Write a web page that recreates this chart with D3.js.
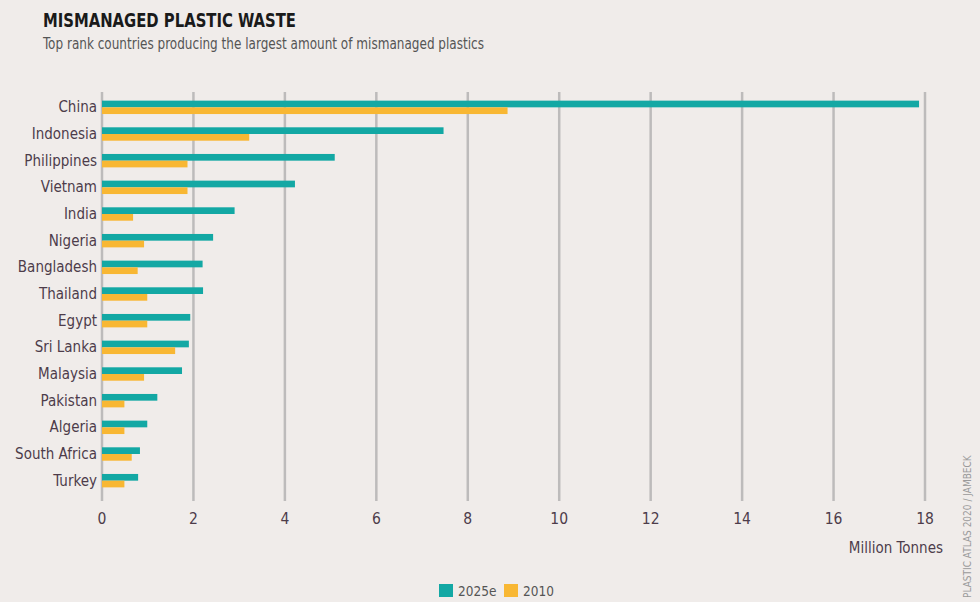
<!DOCTYPE html>
<html><head><meta charset="utf-8">
<script src="https://cdn.jsdelivr.net/npm/d3@7/dist/d3.min.js"></script>
<style>
html,body{margin:0;padding:0;background:#f0ecea;}
svg{display:block;font-family:"Liberation Sans Narrow","DejaVu Sans Condensed","Roboto",sans-serif;}
</style></head>
<body>
<svg id="chart" width="980" height="602"></svg>
<script>
const countries = ["China","Indonesia","Philippines","Vietnam","India","Nigeria","Bangladesh","Thailand","Egypt","Sri Lanka","Malaysia","Pakistan","Algeria","South Africa","Turkey"];
const values2025 = [17.87,7.47,5.09,4.22,2.90,2.43,2.20,2.21,1.93,1.90,1.75,1.21,0.99,0.83,0.79];
const values2010 = [8.87,3.22,1.87,1.87,0.68,0.92,0.78,0.99,0.99,1.60,0.92,0.49,0.49,0.65,0.49];
const seriesNames = ["2025e","2010"];
const xTicks = [0,2,4,6,8,10,12,14,16,18];

const colors = {"2025e":"#13a8a4","2010":"#f8b733"};
const svg = d3.select("#chart");
svg.append("rect").attr("width",980).attr("height",602).attr("fill","#f0ecea");

const x = d3.scaleLinear().domain([0,18]).range([102,925]);
const y = d3.scaleBand().domain(countries).range([94,494]).paddingInner(0).paddingOuter(0);
const sub = d3.scaleBand().domain(seriesNames).range([0,13.4]);

// title
svg.append("text").attr("x",43).attr("y",27).attr("font-size",20).attr("font-weight","bold")
  .attr("fill","#1a1a1a").attr("textLength",253).attr("lengthAdjust","spacingAndGlyphs")
  .text("MISMANAGED PLASTIC WASTE");
svg.append("text").attr("x",43).attr("y",49).attr("font-size",15.5).attr("fill","#555")
  .attr("textLength",441).attr("lengthAdjust","spacingAndGlyphs")
  .text("Top rank countries producing the largest amount of mismanaged plastics");

// grid
svg.append("g").selectAll("line").data(xTicks).join("line")
  .attr("x1",d=>x(d)).attr("x2",d=>x(d)).attr("y1",92).attr("y2",501)
  .attr("stroke","#bdbbbb").attr("stroke-width",2.5);

// bars
const rows = countries.map((c,i)=>({c, v:{"2025e":values2025[i],"2010":values2010[i]}}));
const g = svg.append("g").selectAll("g").data(rows).join("g")
  .attr("transform",d=>`translate(0,${y(d.c)+y.bandwidth()/2-6.7})`);
g.selectAll("rect").data(d=>seriesNames.map(s=>({s,v:d.v[s]}))).join("rect")
  .attr("x",x(0)).attr("y",d=>sub(d.s)).attr("height",sub.bandwidth())
  .attr("width",d=>x(d.v)-x(0)).attr("fill",d=>colors[d.s]);

// y labels
svg.append("g").selectAll("text").data(countries).join("text")
  .attr("x",97).attr("y",d=>y(d)+y.bandwidth()/2+5).attr("text-anchor","end")
  .attr("font-size",15).attr("fill","#4d3c4a").text(d=>d);

// x tick labels
svg.append("g").selectAll("text").data(xTicks).join("text")
  .attr("x",d=>x(d)).attr("y",524).attr("text-anchor","middle")
  .attr("font-size",15.5).attr("fill","#4d3c4a").text(d=>d);

svg.append("text").attr("x",943).attr("y",553).attr("text-anchor","end")
  .attr("font-size",15).attr("fill","#4d3c4a").text("Million Tonnes");

// source
svg.append("text").attr("transform","translate(971,598) rotate(-90)")
  .attr("font-size",10).attr("fill","#9a9a9a").text("PLASTIC ATLAS 2020 / JAMBECK");

// legend
const leg = svg.append("g").selectAll("g").data(seriesNames).join("g")
  .attr("transform",(d,i)=>`translate(${439+i*65},584)`);
leg.append("rect").attr("width",14).attr("height",13).attr("fill",d=>colors[d]);
leg.append("text").attr("x",19).attr("y",12).attr("font-size",13.5).attr("fill","#555").text(d=>d);
</script>
</body></html>
